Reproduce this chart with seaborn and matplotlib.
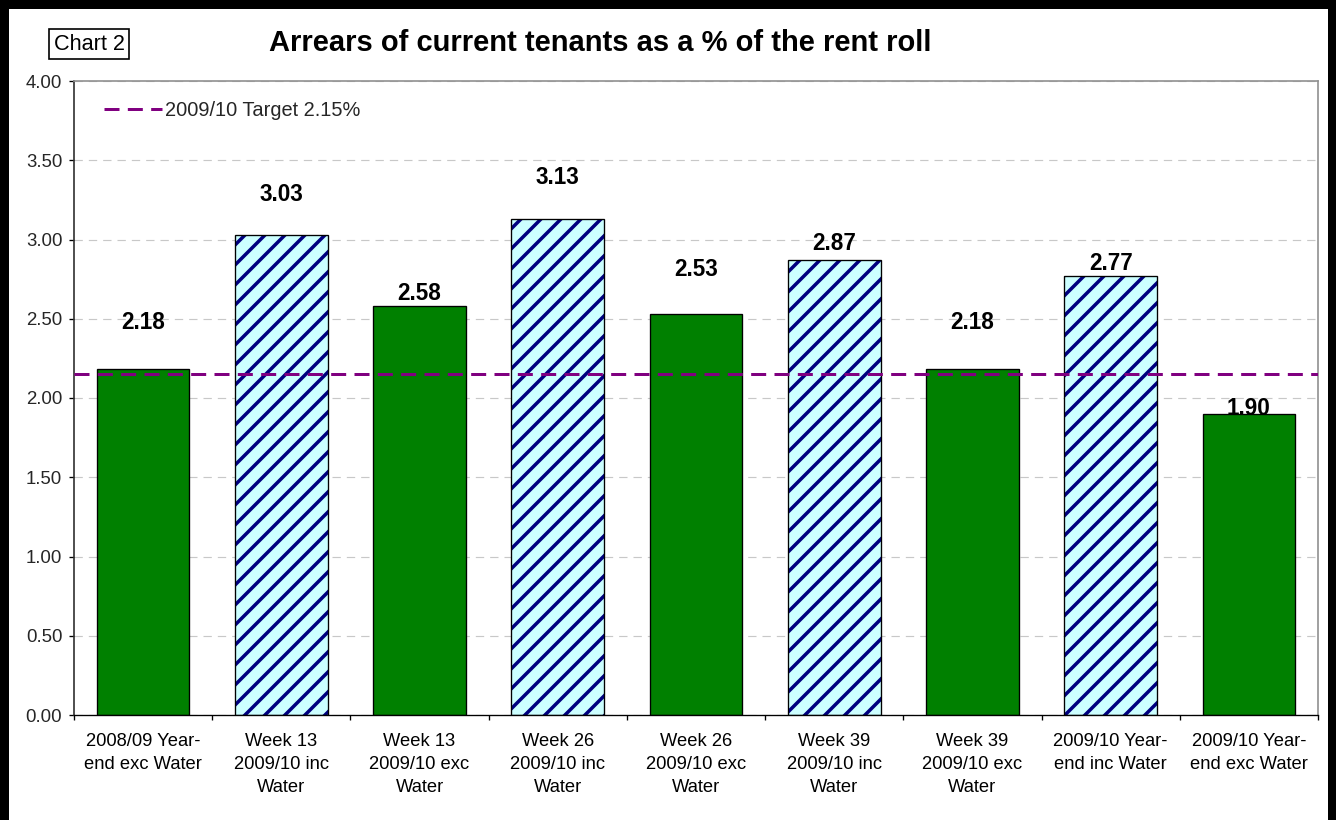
import matplotlib
matplotlib.use("Agg")
import matplotlib.pyplot as plt
import pandas as pd
import seaborn as sns
from matplotlib.lines import Line2D
from matplotlib.patches import Rectangle
from matplotlib.ticker import FixedLocator

# ---- data -------------------------------------------------------------
categories = [
    "2008/09 Year-\nend exc Water",
    "Week 13\n2009/10 inc\nWater",
    "Week 13\n2009/10 exc\nWater",
    "Week 26\n2009/10 inc\nWater",
    "Week 26\n2009/10 exc\nWater",
    "Week 39\n2009/10 inc\nWater",
    "Week 39\n2009/10 exc\nWater",
    "2009/10 Year-\nend inc Water",
    "2009/10 Year-\nend exc Water",
]
values = [2.18, 3.03, 2.58, 3.13, 2.53, 2.87, 2.18, 2.77, 1.90]
water = ["exc", "inc", "exc", "inc", "exc", "inc", "exc", "inc", "exc"]
target = 2.15
target_label = "2009/10 Target 2.15%"
yticks = [0.0, 0.5, 1.0, 1.5, 2.0, 2.5, 3.0, 3.5, 4.0]
title = "Arrears of current tenants as a % of the rent roll"
chart_tag = "Chart 2"

# ---- colours and layout ----------------------------------------------
GREEN = "#008000"
CYAN = "#CCFFFF"
NAVY = "#000080"
PURPLE = "#800080"
GRID = "#C8C8C8"

# height of each value label's centre above its bar top (pixels)
label_lift_px = [47, 40, 13, 41, 44, 17, 47, 12, 5]

# ---- style ------------------------------------------------------------
sns.set_theme(style="white")
plt.rcParams["font.family"] = ["Liberation Sans", "DejaVu Sans"]
plt.rcParams["hatch.linewidth"] = 2.1
plt.rcParams["lines.scale_dashes"] = False

W, H, DPI = 1336, 820, 120
PX = 72 / DPI  # points per pixel
fig = plt.figure(figsize=(W / DPI, H / DPI), dpi=DPI)
fig.patch.set_facecolor("white")

L, R, T, B = 74, 1318, 81, 715
ax = fig.add_axes([L / W, 1 - B / H, (R - L) / W, (B - T) / H])

df = pd.DataFrame({"category": categories, "value": values, "water": water})

sns.barplot(
    data=df, x="category", y="value", hue="water",
    hue_order=["exc", "inc"],
    palette={"exc": GREEN, "inc": CYAN}, saturation=1,
    dodge=False, width=0.67, edgecolor="black", linewidth=0.8,
    legend=False, ax=ax, zorder=2,
)

# striped bars: navy hatch, black outline on top
for p in ax.containers[1]:
    p.set_hatch("//")
    p.set_edgecolor(NAVY)
    p.set_linewidth(0)
    ax.add_patch(Rectangle(p.get_xy(), p.get_width(), p.get_height(),
                           fill=False, edgecolor="black", linewidth=0.8,
                           zorder=3))

# value labels above every bar
for i, v in enumerate(values):
    ax.annotate(f"{v:.2f}", xy=(i, v), xytext=(0, label_lift_px[i] * PX),
                textcoords="offset points", ha="center", va="center",
                fontsize=13.5, fontweight="bold", color="black", zorder=5)

# target line
ax.axhline(target, color=PURPLE, linewidth=1.8,
           linestyle=(0, (9, 5)), zorder=4)

# ---- axes -------------------------------------------------------------
ax.set_ylim(0, 4)
ax.set_xlim(-0.5, len(categories) - 0.5)
ax.set_yticks(yticks)
ax.set_yticklabels([f"{v:.2f}" for v in yticks])
ax.set_xlabel("")
ax.set_ylabel("")

ax.yaxis.grid(True, linestyle=(0, (5, 3.6)), color=GRID, linewidth=0.7)
ax.xaxis.grid(False)
ax.set_axisbelow(True)

ax.xaxis.set_minor_locator(FixedLocator([i - 0.5 for i in range(len(categories) + 1)]))
ax.tick_params(axis="x", which="major", length=0, pad=11, labelsize=11,
               colors="black")
ax.tick_params(axis="x", which="minor", direction="out", length=3,
               width=0.8, color="black", bottom=True)
ax.tick_params(axis="y", direction="out", length=3, width=0.8,
               color="black", labelsize=11.2, pad=4, left=True)
for lbl in ax.get_xticklabels():
    lbl.set_linespacing(1.45)

for side in ("top", "right"):
    ax.spines[side].set_color("#909090")
    ax.spines[side].set_linewidth(1.0)
ax.spines["left"].set_color("#303030")
ax.spines["left"].set_linewidth(1.0)
ax.spines["bottom"].set_color("black")
ax.spines["bottom"].set_linewidth(0.8)

# legend for the target line
handle = Line2D([0], [0], color=PURPLE, linewidth=1.8, linestyle=(0, (9, 5)))
ax.legend([handle], [target_label], loc="center left",
          bbox_to_anchor=((104 - L) / (R - L), (B - 110) / (B - T)),
          frameon=False, fontsize=12, handlelength=2.9, handletextpad=0.15,
          borderpad=0, borderaxespad=0)

# ---- titles and frame -------------------------------------------------
fig.text(600 / W, 1 - 43 / H, title, ha="center", va="center",
         fontsize=17.5, fontweight="bold", color="black")
fig.text(89 / W, 1 - 44 / H, chart_tag, ha="center", va="center",
         fontsize=13, color="black",
         bbox=dict(boxstyle="square,pad=0.22", facecolor="white",
                   edgecolor="black", linewidth=1.0))

fig.add_artist(Rectangle((4 / W, -0.02), (1332 - 4) / W, 1.02 - 4 / H,
                         transform=fig.transFigure, fill=False,
                         edgecolor="black", linewidth=5.4))

fig.savefig("out.png", dpi=DPI)
